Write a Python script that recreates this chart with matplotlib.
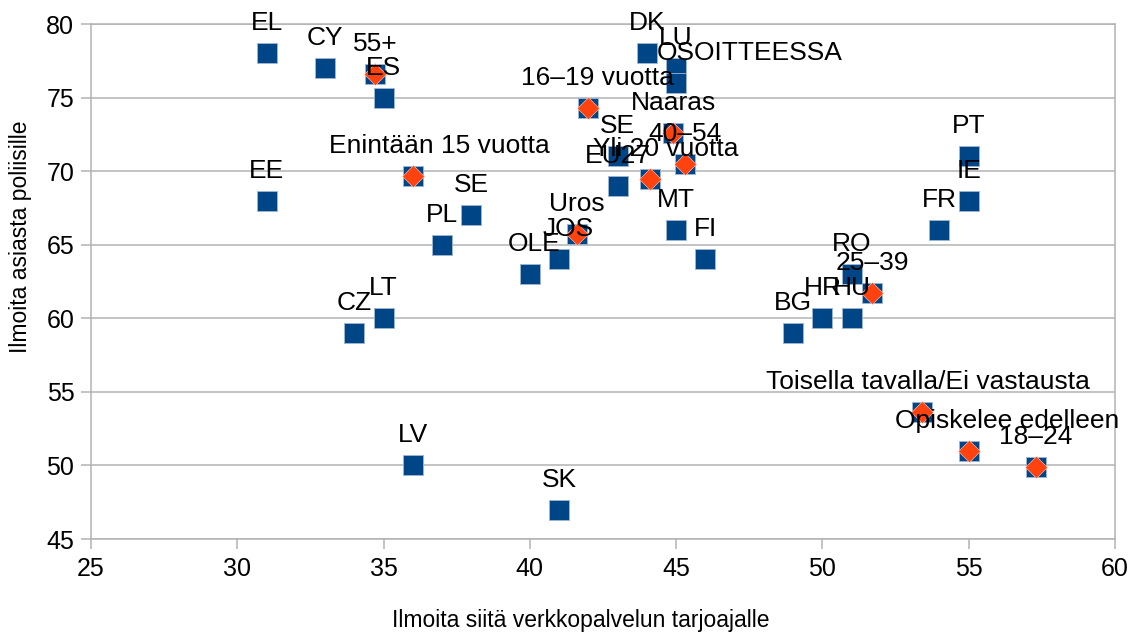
import matplotlib
matplotlib.use('Agg')
from matplotlib import pyplot as plt

plt.rcParams['font.family'] = ['Liberation Sans', 'DejaVu Sans']

# Countries (blue squares)
country_names = ['EL', 'CY', 'ES', 'EE', 'SE', 'PL', 'CZ', 'LT', 'LV', 'SK', 'OLE', 'JOS',
                 'DK', 'LU', 'OSOITTEESSA', 'SE', 'EU27', 'MT', 'FI', 'BG', 'HR', 'HU',
                 'RO', 'FR', 'IE', 'PT']
country_x = [31, 33, 35, 31, 38, 37, 34, 35, 36, 41, 40, 41,
             44, 45, 45, 43, 43, 45, 46, 49, 50, 51,
             51, 54, 55, 55]
country_y = [78, 77, 75, 68, 67, 65, 59, 60, 50, 47, 63, 64,
             78, 77, 76, 71, 69, 66, 64, 59, 60, 60,
             63, 66, 68, 71]

# Respondent groups (orange diamonds)
group_names = ['55+', 'Enintään 15 vuotta', '16–19 vuotta', 'Uros', 'Naaras', 'Yli 20 vuotta',
               '40–54', '25–39', 'Toisella tavalla/Ei vastausta', 'Opiskelee edelleen', '18–24']
group_x = [34.7, 36.0, 42.0, 41.6, 44.9, 44.1, 45.3, 51.7, 53.4, 55.0, 57.3]
group_y = [76.6, 69.7, 74.3, 65.7, 72.6, 69.5, 70.5, 61.7, 53.6, 51.0, 49.9]

# horizontal label nudges in pixels
label_dx = {'Enintään 15 vuotta': 27, '16–19 vuotta': 9, 'Yli 20 vuotta': 16,
            'OSOITTEESSA': 74, 'Opiskelee edelleen': 38, 'JOS': 9, 'OLE': 4,
            'Toisella tavalla/Ei vastausta': 6}

fig = plt.figure(figsize=(11.36, 6.36), dpi=100)
ax = fig.add_axes([0.0801, 0.1525, 0.9014, 0.8097])

blue = '#004586'
orange = '#ff420e'
grid = '#b3b3b3'

ax.scatter(country_x + group_x, country_y + group_y, marker='s', s=190, color=blue,
           edgecolors='#9fb7d3', linewidths=0.6, zorder=3)
ax.scatter(group_x, group_y, marker='D', s=125, color=orange,
           edgecolors='#ffd0c0', linewidths=0.4, zorder=4)

for name, x, y in zip(country_names + group_names, country_x + group_x, country_y + group_y):
    ax.annotate(name, (x, y), xytext=(label_dx.get(name, 0), 23), textcoords='offset pixels',
                ha='center', va='baseline', fontsize=19, zorder=5)

ax.set_xlim(25, 60)
ax.set_ylim(45, 80)
ax.set_xticks(range(25, 61, 5))
ax.set_yticks(range(45, 81, 5))
ax.yaxis.grid(True, color=grid, linewidth=1.1)
ax.set_axisbelow(True)
for s in ax.spines.values():
    s.set_color(grid)
    s.set_linewidth(1.1)
ax.tick_params(axis='both', colors=grid, labelcolor='black', labelsize=18,
               length=7, width=1.1, direction='out')
ax.tick_params(axis='x', pad=6)
ax.tick_params(axis='y', pad=5)

ax.set_xlabel('Ilmoita siitä verkkopalvelun tarjoajalle', fontsize=16.5)
ax.set_ylabel('Ilmoita asiasta poliisille', fontsize=16.5)
ax.xaxis.set_label_coords(0.478, -0.135)
ax.yaxis.set_label_coords(-0.058, 0.586)

fig.savefig('out.png', dpi=100)
